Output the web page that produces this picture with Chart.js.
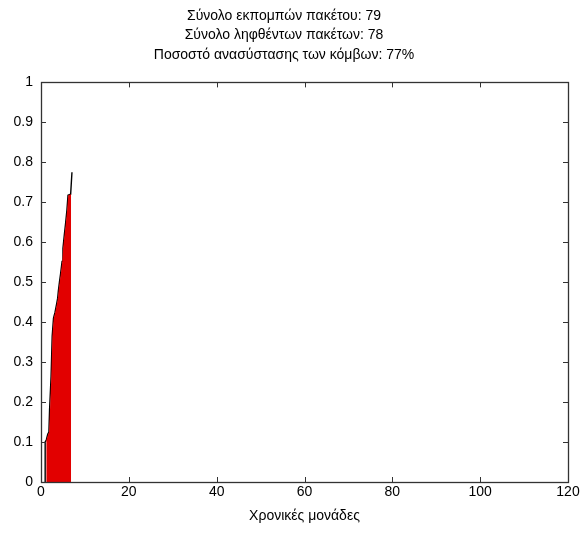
<!DOCTYPE html>
<html>
<head>
<meta charset="utf-8">
<script src="https://cdn.jsdelivr.net/npm/chart.js@4/dist/chart.umd.min.js"></script>
<style>
  html, body { margin: 0; padding: 0; background: #fff; }
  #wrap { width: 583px; height: 538px; }
</style>
</head>
<body>
<div id="wrap"><canvas id="c" width="583" height="538"></canvas></div>
<script>
// Title lines
const titleLines = [
  'Σύνολο εκπομπών πακέτου: 79',
  'Σύνολο ληφθέντων πακέτων: 78',
  'Ποσοστό ανασύστασης των κόμβων: 77%'
];
const xAxisTitle = 'Χρονικές μονάδες';

// Axis ranges and ticks
const xTicks = [0, 20, 40, 60, 80, 100, 120];
const yTicks = [0, 0.1, 0.2, 0.3, 0.4, 0.5, 0.6, 0.7, 0.8, 0.9, 1];

// Filled recovery area (time, fraction of recovered nodes)
const areaX = [1.15, 1.15, 1.3, 1.65, 1.85, 2.05, 2.35, 2.6, 2.9, 3.25, 3.6, 3.85, 4.0, 4.25, 4.5, 4.85, 5.05, 5.35, 5.65, 5.95, 6.2, 6.85, 6.85];
const areaY = [0, 0.10, 0.105, 0.12, 0.125, 0.18, 0.265, 0.365, 0.41, 0.425, 0.445, 0.46, 0.478, 0.50, 0.52, 0.552, 0.585, 0.617, 0.647, 0.68, 0.7175, 0.72, 0];

// Edge trace of the same curve
const edgeX = [0.95, 0.95, 1.2, 1.55, 1.8, 1.95, 2.3, 2.55, 2.85, 3.2, 3.55, 3.8, 3.95, 4.2, 4.45, 4.8, 5.0, 5.3, 5.6, 5.9, 6.15, 6.75, 7.05];
const edgeY = [0, 0.10, 0.105, 0.12, 0.125, 0.18, 0.265, 0.365, 0.41, 0.425, 0.445, 0.46, 0.478, 0.50, 0.52, 0.552, 0.585, 0.617, 0.647, 0.68, 0.7175, 0.72, 0.775];

const toPoints = (xs, ys) => xs.map((x, i) => ({ x: x, y: ys[i] }));

const FONT = "'Liberation Sans', Arial, sans-serif";
const AXIS_COLOR = '#333';

// Box around the plot with inward ticks on all four sides
const boxTicks = {
  id: 'boxTicks',
  afterDatasetsDraw(chart) {
    const { ctx, chartArea: a, scales } = chart;
    const len = 5;
    ctx.save();
    ctx.strokeStyle = AXIS_COLOR;
    ctx.lineWidth = 1;
    ctx.beginPath();
    scales.x.ticks.forEach((t, i) => {
      const px = Math.round(scales.x.getPixelForTick(i)) + 0.5;
      ctx.moveTo(px, a.bottom); ctx.lineTo(px, a.bottom - len);
      ctx.moveTo(px, a.top); ctx.lineTo(px, a.top + len);
    });
    scales.y.ticks.forEach((t, i) => {
      const py = Math.round(scales.y.getPixelForTick(i)) + 0.5;
      ctx.moveTo(a.left, py); ctx.lineTo(a.left + len, py);
      ctx.moveTo(a.right, py); ctx.lineTo(a.right - len, py);
    });
    ctx.stroke();
    ctx.lineWidth = 1.3;
    ctx.strokeRect(Math.round(a.left) + 0.5, Math.round(a.top) + 0.5,
                   Math.round(a.right - a.left), Math.round(a.bottom - a.top));
    ctx.restore();
  }
};

new Chart(document.getElementById('c'), {
  type: 'scatter',
  data: {
    datasets: [
      {
        data: toPoints(areaX, areaY),
        showLine: true,
        fill: 'origin',
        backgroundColor: 'rgb(226,0,0)',
        borderWidth: 0,
        borderColor: 'rgba(0,0,0,0)',
        pointRadius: 0,
        tension: 0
      },
      {
        data: toPoints(edgeX, edgeY),
        showLine: true,
        fill: false,
        borderColor: '#000',
        borderWidth: 1.4,
        pointRadius: 0,
        tension: 0
      }
    ]
  },
  options: {
    responsive: false,
    animation: false,
    layout: { padding: { left: 0, right: 15, top: 0, bottom: 0 } },
    plugins: {
      legend: { display: false },
      tooltip: { enabled: false },
      title: {
        display: true,
        text: titleLines,
        color: '#000',
        font: { family: FONT, size: 14, weight: 'normal', lineHeight: 1.39 },
        padding: { top: 6, bottom: 18 }
      }
    },
    scales: {
      x: {
        type: 'linear',
        min: 0, max: 120,
        afterBuildTicks(scale) { scale.ticks = xTicks.map(v => ({ value: v })); },
        afterFit(scale) { scale.height = 56; },
        grid: { display: false, drawTicks: false },
        border: { display: false },
        ticks: {
          color: '#000',
          padding: 2,
          maxRotation: 0,
          font: { family: FONT, size: 14 },
          callback: v => String(v)
        },
        title: {
          display: true,
          text: xAxisTitle,
          color: '#000',
          font: { family: FONT, size: 14 },
          padding: { top: 2, bottom: 13 }
        }
      },
      y: {
        type: 'linear',
        min: 0, max: 1,
        afterBuildTicks(scale) { scale.ticks = yTicks.map(v => ({ value: v })); },
        afterFit(scale) { scale.width = 41; },
        grid: { display: false, drawTicks: false },
        border: { display: false },
        ticks: {
          color: '#000',
          padding: 8,
          font: { family: FONT, size: 14 },
          callback: v => String(+v.toFixed(1))
        }
      }
    }
  },
  plugins: [boxTicks]
});
</script>
</body>
</html>
